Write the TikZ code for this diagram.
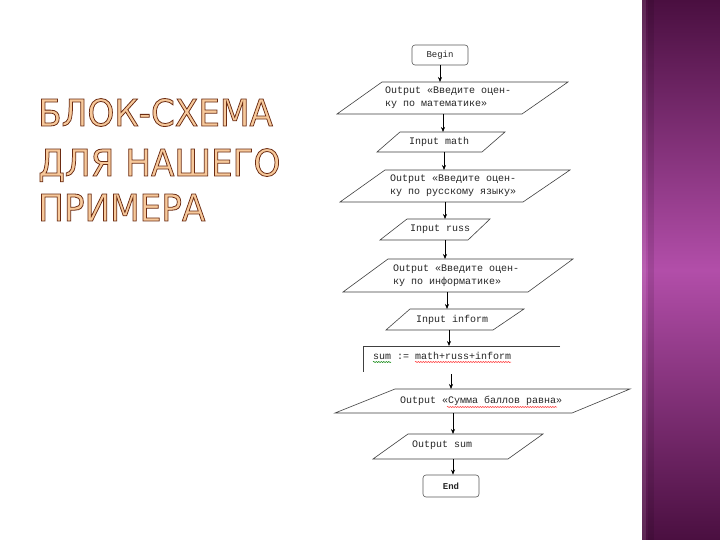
\documentclass[tikz,border=0pt]{standalone}
\usepackage{fontspec}
\setmainfont{DejaVu Sans}
\newfontfamily\monof{Liberation Mono}
\newfontfamily\titlef{DejaVu Sans}
\usetikzlibrary{arrows.meta,decorations.pathmorphing}
\definecolor{pdark}{HTML}{4A0F40}
\definecolor{pmid}{HTML}{B24EA9}
\definecolor{tfill}{HTML}{F7C99B}
\newcommand{\outl}[1]{\scalebox{0.925}[1]{\special{pdf:literal direct 2 Tr 0.8 w 0.42 0.17 0.07 RG}#1\special{pdf:literal direct 0 Tr}}}
\tikzset{
  arr/.style={-{Stealth[length=5pt,width=4pt]}, line width=0.6pt, draw=black},
  shp/.style={draw=black!75, line width=0.6pt},
  txt/.style={font=\monof\fontsize{10}{13}\selectfont, text=black!85, inner sep=0pt, anchor=west, align=left},
  term/.style={draw=black!65, line width=0.6pt, rounded corners=3pt, minimum width=56pt, inner sep=0pt, font=\monof\fontsize{9}{11}\selectfont, text=black!85},
  ttl/.style={font=\titlef\fontsize{37}{40}\selectfont, text=tfill, inner sep=0pt, anchor=base west},
  wavy/.style={decorate, decoration={snake, amplitude=0.6pt, segment length=2.5pt}, line width=0.5pt}
}
\begin{document}
\begin{tikzpicture}[x=1pt,y=-1pt]
\useasboundingbox (0,0) rectangle (720,540);
\fill[white] (0,0) rectangle (720,540);
% purple band
\shade[top color=pdark, bottom color=pdark, middle color=pmid] (642,0) rectangle (720,540);
\fill[white, opacity=0.10] (642,0) rectangle (646,540);
\fill[black, opacity=0.10] (648,0) rectangle (654,540);

% title
\node[ttl] (tl1) at (38,126) {\outl{БЛОК-СХЕМА}};
\node[ttl] (tl2) at (38,176) {\outl{ДЛЯ НАШЕГО}};
\node[ttl] (tl3) at (38,221) {\outl{ПРИМЕРА}};

% Begin
\node[term, minimum height=20pt] (begin) at (440,55) {Begin};

% P1
\draw[shp] (382,82) -- (568,82) -- (522,114) -- (337,114) -- cycle;
\node[txt] (t1) at (385,98) {Output «Введите оцен-\\ку по математике»};
\coordinate (p1n) at (440,82);
\coordinate (p1s) at (443,114);

% P2
\draw[shp] (400,132) -- (505,132) -- (482,152) -- (377,152) -- cycle;
\node[txt] (t2) at (409,142) {Input math};
\coordinate (p2n) at (443,132);
\coordinate (p2s) at (444,152);

% P3
\draw[shp] (385,170) -- (570,170) -- (523,202) -- (340,202) -- cycle;
\node[txt] (t3) at (390,186) {Output «Введите оцен-\\ку по русскому языку»};
\coordinate (p3n) at (444,170);
\coordinate (p3s) at (445,202);

% P4
\draw[shp] (407,219) -- (490,219) -- (468,240) -- (380,240) -- cycle;
\node[txt] (t4) at (410,229.5) {Input russ};
\coordinate (p4n) at (445,219);
\coordinate (p4s) at (445,240);

% P5
\draw[shp] (388,259) -- (573,259) -- (528,292) -- (343,292) -- cycle;
\node[txt] (t5) at (393,275.5) {Output «Введите оцен-\\ку по информатике»};
\coordinate (p5n) at (445,259);
\coordinate (p5s) at (447,292);

% P6
\draw[shp] (410,309) -- (524,309) -- (493,330) -- (386,330) -- cycle;
\node[txt] (t6) at (416,319.5) {Input inform};
\coordinate (p6n) at (447,309);
\coordinate (p6s) at (449,330);

% sum block
\draw[shp] (560,346) -- (363,346) -- (363,372);
\node[txt] (t7) at (373,356) {sum := math+russ+inform};
\draw[wavy, green!50!black] (373,362) -- (391,362);
\draw[wavy, red!80] (415,362) -- (511,362);
\coordinate (sumn) at (449,346);
\coordinate (sums) at (451,374);

% P7
\draw[shp] (395,389) -- (630,389) -- (572,413) -- (335,413) -- cycle;
\node[txt] (t8) at (400,401) {Output «Сумма баллов равна»};
\draw[wavy, red!80] (447,407) -- (557,407);
\coordinate (p7n) at (451,389);
\coordinate (p7s) at (453,413);

% P8
\draw[shp] (408,434) -- (543,434) -- (508,459) -- (373,459) -- cycle;
\node[txt] (t9) at (412,445) {Output sum};
\coordinate (p8n) at (453,434);
\coordinate (p8s) at (453,459);

% End
\node[term, minimum height=22pt, font=\monof\bfseries\fontsize{9}{11}\selectfont] (end) at (451,486) {End};

% connectors
\draw[arr] (begin.south) -- (p1n);
\draw[arr] (p1s) -- (p2n);
\draw[arr] (p2s) -- (p3n);
\draw[arr] (p3s) -- (p4n);
\draw[arr] (p4s) -- (p5n);
\draw[arr] (p5s) -- (p6n);
\draw[arr] (p6s) -- (sumn);
\draw[arr] (sums) -- (p7n);
\draw[arr] (p7s) -- (p8n);
\draw[arr] (p8s) -- (end.north -| p8s);
\end{tikzpicture}
\end{document}
